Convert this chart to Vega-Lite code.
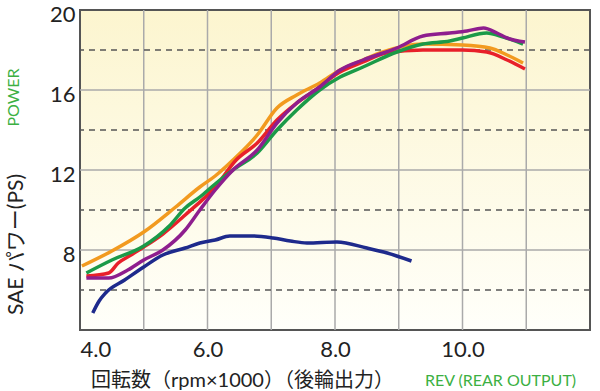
{
  "$schema": "https://vega.github.io/schema/vega-lite/v6.json",
  "width": 510,
  "height": 320,
  "autosize": {"type": "none"},
  "padding": {"left": 80, "top": 10, "right": 10, "bottom": 61},
  "background": "white",
  "config": {
    "font": "Lato, 'Noto Sans CJK JP', sans-serif",
    "view": {
      "stroke": "#555555",
      "strokeWidth": 2,
      "fill": {"gradient": "linear", "x1": 0, "y1": 0, "x2": 0, "y2": 1,
        "stops": [{"offset": 0, "color": "#fcf5cf"}, {"offset": 1, "color": "#fffffa"}]}
    }
  },
  "datasets": {
    "vgrid": [{"rpm": 5}, {"rpm": 6}, {"rpm": 7}, {"rpm": 8}, {"rpm": 9}, {"rpm": 10}, {"rpm": 11}],
    "hgrid": [{"ps": 8}, {"ps": 12}, {"ps": 16}],
    "dashed": [{"ps": 6}, {"ps": 10}, {"ps": 14}, {"ps": 18}],
    "curves": [
      {"series": "navy", "rpm": 4.2, "ps": 4.85}, {"series": "navy", "rpm": 4.3, "ps": 5.45}, {"series": "navy", "rpm": 4.4, "ps": 5.85}, {"series": "navy", "rpm": 4.7, "ps": 6.5}, {"series": "navy", "rpm": 5.0, "ps": 7.15}, {"series": "navy", "rpm": 5.3, "ps": 7.75}, {"series": "navy", "rpm": 5.65, "ps": 8.1}, {"series": "navy", "rpm": 5.88, "ps": 8.35}, {"series": "navy", "rpm": 6.12, "ps": 8.5}, {"series": "navy", "rpm": 6.35, "ps": 8.7}, {"series": "navy", "rpm": 6.71, "ps": 8.7}, {"series": "navy", "rpm": 7.03, "ps": 8.6}, {"series": "navy", "rpm": 7.3, "ps": 8.45}, {"series": "navy", "rpm": 7.56, "ps": 8.35}, {"series": "navy", "rpm": 8.03, "ps": 8.4}, {"series": "navy", "rpm": 8.5, "ps": 8.1}, {"series": "navy", "rpm": 8.82, "ps": 7.85}, {"series": "navy", "rpm": 9.2, "ps": 7.45},
      {"series": "orange", "rpm": 4.03, "ps": 7.2}, {"series": "orange", "rpm": 4.5, "ps": 7.95}, {"series": "orange", "rpm": 5.0, "ps": 8.9}, {"series": "orange", "rpm": 5.5, "ps": 10.15}, {"series": "orange", "rpm": 5.88, "ps": 11.15}, {"series": "orange", "rpm": 6.12, "ps": 11.7}, {"series": "orange", "rpm": 6.4, "ps": 12.5}, {"series": "orange", "rpm": 6.78, "ps": 13.75}, {"series": "orange", "rpm": 7.09, "ps": 15.1}, {"series": "orange", "rpm": 7.4, "ps": 15.75}, {"series": "orange", "rpm": 7.76, "ps": 16.35}, {"series": "orange", "rpm": 8.08, "ps": 17.0}, {"series": "orange", "rpm": 8.44, "ps": 17.5}, {"series": "orange", "rpm": 8.75, "ps": 17.9}, {"series": "orange", "rpm": 9.38, "ps": 18.3}, {"series": "orange", "rpm": 10.0, "ps": 18.25}, {"series": "orange", "rpm": 10.43, "ps": 18.1}, {"series": "orange", "rpm": 10.7, "ps": 17.75}, {"series": "orange", "rpm": 10.95, "ps": 17.35},
      {"series": "red", "rpm": 4.1, "ps": 6.7}, {"series": "red", "rpm": 4.45, "ps": 6.85}, {"series": "red", "rpm": 4.6, "ps": 7.35}, {"series": "red", "rpm": 4.8, "ps": 7.75}, {"series": "red", "rpm": 5.0, "ps": 8.15}, {"series": "red", "rpm": 5.3, "ps": 8.8}, {"series": "red", "rpm": 5.65, "ps": 9.75}, {"series": "red", "rpm": 6.12, "ps": 11.15}, {"series": "red", "rpm": 6.45, "ps": 12.5}, {"series": "red", "rpm": 6.78, "ps": 13.35}, {"series": "red", "rpm": 7.09, "ps": 14.5}, {"series": "red", "rpm": 7.4, "ps": 15.35}, {"series": "red", "rpm": 7.76, "ps": 16.15}, {"series": "red", "rpm": 8.0, "ps": 16.75}, {"series": "red", "rpm": 8.44, "ps": 17.4}, {"series": "red", "rpm": 8.8, "ps": 17.85}, {"series": "red", "rpm": 9.38, "ps": 18.0}, {"series": "red", "rpm": 10.0, "ps": 18.0}, {"series": "red", "rpm": 10.38, "ps": 17.9}, {"series": "red", "rpm": 10.7, "ps": 17.5}, {"series": "red", "rpm": 10.98, "ps": 17.05},
      {"series": "green", "rpm": 4.1, "ps": 6.85}, {"series": "green", "rpm": 4.5, "ps": 7.5}, {"series": "green", "rpm": 5.0, "ps": 8.2}, {"series": "green", "rpm": 5.4, "ps": 9.2}, {"series": "green", "rpm": 5.65, "ps": 10.1}, {"series": "green", "rpm": 5.88, "ps": 10.65}, {"series": "green", "rpm": 6.12, "ps": 11.3}, {"series": "green", "rpm": 6.4, "ps": 12.0}, {"series": "green", "rpm": 6.78, "ps": 12.85}, {"series": "green", "rpm": 7.09, "ps": 14.0}, {"series": "green", "rpm": 7.4, "ps": 15.0}, {"series": "green", "rpm": 7.76, "ps": 16.0}, {"series": "green", "rpm": 8.08, "ps": 16.65}, {"series": "green", "rpm": 8.44, "ps": 17.15}, {"series": "green", "rpm": 8.97, "ps": 17.9}, {"series": "green", "rpm": 9.38, "ps": 18.3}, {"series": "green", "rpm": 9.8, "ps": 18.45}, {"series": "green", "rpm": 10.0, "ps": 18.6}, {"series": "green", "rpm": 10.38, "ps": 18.85}, {"series": "green", "rpm": 10.64, "ps": 18.65}, {"series": "green", "rpm": 10.95, "ps": 18.3},
      {"series": "purple", "rpm": 4.1, "ps": 6.6}, {"series": "purple", "rpm": 4.45, "ps": 6.6}, {"series": "purple", "rpm": 4.75, "ps": 7.0}, {"series": "purple", "rpm": 5.0, "ps": 7.5}, {"series": "purple", "rpm": 5.3, "ps": 8.0}, {"series": "purple", "rpm": 5.65, "ps": 9.0}, {"series": "purple", "rpm": 5.88, "ps": 10.0}, {"series": "purple", "rpm": 6.12, "ps": 11.0}, {"series": "purple", "rpm": 6.4, "ps": 12.0}, {"series": "purple", "rpm": 6.78, "ps": 13.0}, {"series": "purple", "rpm": 7.09, "ps": 14.35}, {"series": "purple", "rpm": 7.4, "ps": 15.35}, {"series": "purple", "rpm": 7.76, "ps": 16.15}, {"series": "purple", "rpm": 8.08, "ps": 17.0}, {"series": "purple", "rpm": 8.44, "ps": 17.5}, {"series": "purple", "rpm": 8.97, "ps": 18.1}, {"series": "purple", "rpm": 9.38, "ps": 18.7}, {"series": "purple", "rpm": 9.8, "ps": 18.85}, {"series": "purple", "rpm": 10.07, "ps": 18.95}, {"series": "purple", "rpm": 10.33, "ps": 19.1}, {"series": "purple", "rpm": 10.54, "ps": 18.85}, {"series": "purple", "rpm": 10.7, "ps": 18.6}, {"series": "purple", "rpm": 10.98, "ps": 18.4}
    ]
  },
  "resolve": {"axis": {"x": "independent", "y": "independent"}},
  "layer": [
    {
      "data": {"name": "vgrid"},
      "mark": {"type": "rule", "color": "#aaaaaa", "strokeWidth": 1.5},
      "encoding": {
        "x": {"field": "rpm", "type": "quantitative", "scale": {"domain": [4, 12], "nice": false, "zero": false},
          "axis": {"orient": "top", "labels": false, "ticks": false, "domain": false, "grid": false,
            "title": "REV  (REAR OUTPUT)", "titleColor": "#3cb043", "titleFontSize": 16, "titleFontWeight": "normal",
            "titleX": 420, "titleY": 370, "titleAlign": "center", "titleBaseline": "middle", "titleAngle": 0}}
      }
    },
    {
      "data": {"name": "hgrid"},
      "mark": {"type": "rule", "color": "#aaaaaa", "strokeWidth": 1.5},
      "encoding": {
        "y": {"field": "ps", "type": "quantitative", "scale": {"domain": [4, 20], "nice": false, "zero": false},
          "axis": {"orient": "right", "labels": false, "ticks": false, "domain": false, "grid": false,
            "title": "POWER", "titleColor": "#3cb043", "titleFontSize": 16, "titleFontWeight": "normal",
            "titleX": -577, "titleY": 87, "titleAlign": "center", "titleBaseline": "middle", "titleAngle": 270}}
      }
    },
    {
      "data": {"name": "dashed"},
      "mark": {"type": "rule", "color": "#555555", "strokeWidth": 1.3, "strokeDash": [6, 5]},
      "encoding": {
        "y": {"field": "ps", "type": "quantitative", "scale": {"domain": [4, 20], "nice": false, "zero": false}, "axis": null}
      }
    },
    {
      "data": {"name": "curves"},
      "mark": {"type": "line", "strokeWidth": 3.5, "interpolate": "monotone"},
      "encoding": {
        "x": {"field": "rpm", "type": "quantitative", "scale": {"domain": [4, 12], "nice": false, "zero": false},
          "axis": {"orient": "bottom", "values": [4, 6, 8, 10], "format": ".1f", "labelFontSize": 22, "labelColor": "#222222",
            "labelPadding": 9, "ticks": false, "domain": false, "grid": false,
            "title": "回転数（rpm×1000）（後輪出力）", "titleColor": "#222222", "titleFontSize": 20, "titleFontWeight": "normal",
            "titleX": 162, "titleY": 50, "titleAlign": "center", "titleBaseline": "middle"}},
        "y": {"field": "ps", "type": "quantitative", "scale": {"domain": [4, 20], "nice": false, "zero": false},
          "axis": {"orient": "left", "values": [8, 12, 16, 20], "labelFontSize": 22, "labelColor": "#222222", "labelPadding": 5,
            "labelOffset": 4, "labelFlush": false, "ticks": false, "domain": false, "grid": false,
            "title": "SAE パワー(PS)", "titleColor": "#222222", "titleFontSize": 21, "titleFontWeight": "normal",
            "titleX": -64, "titleY": 234, "titleAlign": "center", "titleBaseline": "middle", "titleAngle": 270}},
        "color": {"field": "series", "type": "nominal", "legend": null,
          "scale": {"domain": ["navy", "orange", "red", "green", "purple"],
            "range": ["#1e2a8c", "#f29a1f", "#e8202a", "#1b9a48", "#8e1e8e"]}}
      }
    }
  ]
}
